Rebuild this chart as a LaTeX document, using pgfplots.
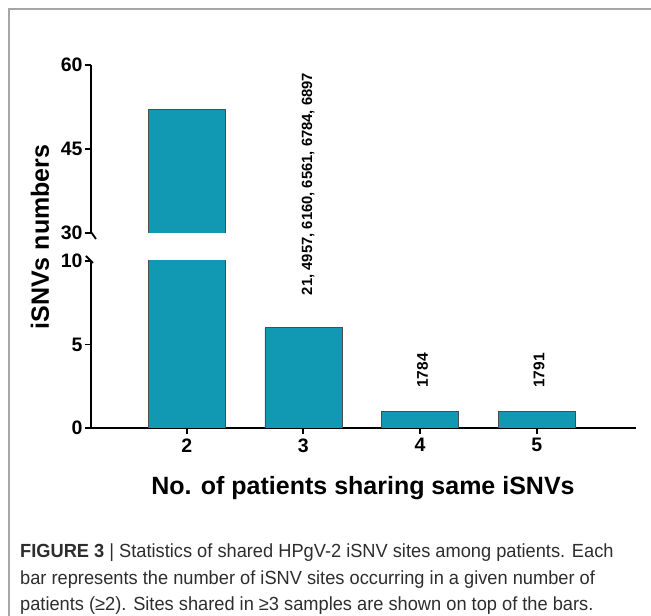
\documentclass[border=0pt]{standalone}
\usepackage{pgfplots}
\pgfplotsset{compat=1.18}
\usepackage{fontspec}
\setmainfont{Liberation Sans}
\newfontfamily\capfont[FakeStretch=0.96]{Liberation Sans}
\definecolor{barc}{RGB}{17,152,178}
\definecolor{capc}{RGB}{45,45,45}
\begin{document}
\begin{tikzpicture}
\useasboundingbox (0pt,0pt) rectangle (651pt,616pt);
\draw[black!35, line width=1.3pt] (9pt,0pt) -- (9pt,607pt) -- (651pt,607pt);
\pgfplotsset{
  common/.style={
    scale only axis, width=545pt,
    xmin=1.18, xmax=5.85,
    axis line style={-, line width=2pt, black},
    tick style={line width=1.8pt, black},
    major tick length=6pt,
    tick align=outside,
    /pgf/number format/assume math mode=true,
    ticklabel style={font=\bfseries\fontsize{19.5}{19.5}\selectfont},
    yticklabel style={xshift=1pt},
    xticklabel style={yshift=-1pt},
    clip mode=individual,
  },
  barsty/.style={ybar, bar width=77pt, fill=barc, draw=black!70, line width=0.7pt},
}
% lower part
\begin{axis}[at={(91pt,188pt)}, anchor=south west, height=167pt,
  ymin=0, ymax=10, ytick={0,5,10},
  axis x line=bottom, axis y line=left, common,
  xtick={2,3,4,5}]
\addplot[barsty] coordinates {(2,52) (3,6) (4,1) (5,1)};
\node[rotate=90, anchor=west, font=\bfseries\fontsize{14.8}{14.8}\selectfont] at (axis cs:3.04,7.75) {21, 4957, 6160, 6561, 6784, 6897};
\node[rotate=90, anchor=west, font=\bfseries\fontsize{15.5}{15.5}\selectfont] at (axis cs:4.02,2.2) {1784};
\node[rotate=90, anchor=west, font=\bfseries\fontsize{15.5}{15.5}\selectfont] at (axis cs:5.02,2.2) {1791};
\end{axis}
% upper part
\begin{axis}[at={(91pt,383pt)}, anchor=south west, height=168pt,
  ymin=30, ymax=60, ytick={30,45,60},
  axis x line=none, axis y line=left, common]
\addplot[barsty] coordinates {(2,52)};
\end{axis}
% break marks
\draw[line width=1.8pt] (91pt,384pt) -- (96pt,377pt);
\draw[line width=1.8pt] (86pt,360pt) -- (93pt,353pt);
% axis titles
\node[rotate=90, font=\bfseries\fontsize{25}{25}\selectfont] at (40pt,379pt) {iSNVs numbers};
\node[font=\bfseries\fontsize{25}{25}\selectfont] at (363pt,128pt) {No. of patients sharing same iSNVs};
% caption
\begin{scope}[every node/.style={anchor=base west, inner sep=0pt, text=capc, font=\capfont\fontsize{19}{19}\selectfont}]
\node at (20pt,58pt) {\textbf{FIGURE 3} | Statistics of shared HPgV-2 iSNV sites among patients. Each};
\node at (20pt,31pt) {bar represents the number of iSNV sites occurring in a given number of};
\node at (20pt,5pt) {patients (≥2). Sites shared in ≥3 samples are shown on top of the bars.};
\end{scope}
\end{tikzpicture}
\end{document}
